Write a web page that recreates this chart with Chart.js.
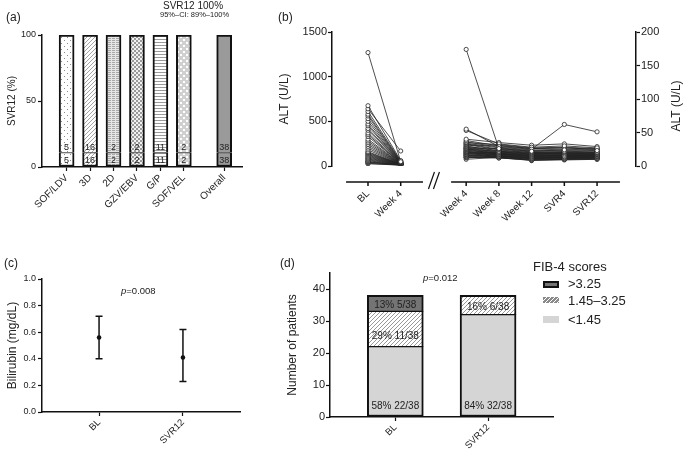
<!DOCTYPE html>
<html><head><meta charset="utf-8">
<script src="https://cdn.jsdelivr.net/npm/chart.js@4.4.0/dist/chart.umd.min.js"></script>
<style>
html,body{margin:0;padding:0;background:#fff;width:684px;height:455px;overflow:hidden;font-family:'Liberation Sans',Arial,Helvetica,sans-serif;}
canvas{position:absolute;}
.t{position:absolute;color:#222;white-space:nowrap;line-height:1;}
</style></head><body>
<canvas id="ca" width="260" height="230" style="left:0;top:0"></canvas>
<canvas id="cb" width="414" height="230" style="left:270px;top:0"></canvas>
<canvas id="cc" width="260" height="215" style="left:0;top:240px"></canvas>
<canvas id="cd" width="404" height="215" style="left:280px;top:240px"></canvas>
<div class="t" style="left:6px;top:11px;font-size:12px">(a)</div>
<div class="t" style="left:163px;top:1px;font-size:10px">SVR12 100%</div>
<div class="t" style="left:160px;top:11px;font-size:7.5px">95%–CI: 89%–100%</div>
<div class="t" style="left:278px;top:11px;font-size:12px">(b)</div>
<div class="t" style="left:4px;top:257px;font-size:12px">(c)</div>
<div class="t" style="left:280px;top:257px;font-size:12px">(d)</div>
<div class="t" style="left:121px;top:286px;font-size:9.5px"><i>p</i>=0.008</div>
<div class="t" style="left:423px;top:273px;font-size:9.5px"><i>p</i>=0.012</div>
<script>
// ---------- DATA ----------
// (a) SVR12 by regimen
const regimens = ['SOF/LDV','3D','2D','GZV/EBV','G/P','SOF/VEL','Overall'];
const svrRate = [100,100,100,100,100,100,100];
const svrCured = [5,16,2,2,11,2,38];
const svrTreated = [5,16,2,2,11,2,38];
const fractionSplit = 11;

// (b) ALT per patient (left block on left axis, right block on right axis)
const altLeftLabels = ['BL','Week 4'];
const altRightLabels = ['Week 4','Week 8','Week 12','SVR4','SVR12'];
const altBL   = [1270,675,640,610,580,560,530,500,470,450,420,400,370,350,330,300,280,260,240,220,200,180,160,150,140,130,120,110,100,90,80,70,60,50,45,40,30,25];
const altW4L  = [48,60,168,55,50,45,42,40,38,36,35,34,32,30,30,28,27,26,25,24,23,22,21,20,20,19,18,17,16,15,15,14,13,12,12,11,10,10];
const altW4   = [174,55,53,40,38,36,35,34,33,32,31,30,29,28,27,27,26,25,25,24,23,22,22,21,20,20,19,18,18,17,16,16,15,14,13,13,12,10];
const altW8   = [26,29,33,35,30,28,32,27,25,24,31,22,23,21,20,26,19,18,22,17,20,16,18,15,17,19,14,16,21,15,13,14,12,18,13,12,15,13];
const altW12  = [22,25,28,31,26,24,27,23,21,20,26,19,20,18,17,22,16,15,19,14,17,13,15,12,14,16,11,13,18,12,10,11,9,15,10,9,12,8];
const altSVR4 = [24,62,30,33,27,25,28,22,21,20,27,18,21,19,16,23,17,14,20,15,18,13,16,12,15,17,11,14,19,13,10,12,10,16,11,9,13,10];
const altSVR12= [23,51,27,29,25,24,26,21,20,19,25,18,20,18,17,22,16,15,19,15,17,14,16,13,15,16,12,14,18,13,11,12,10,15,12,10,13,11];

// (c) Bilirubin
const biliLabels = ['BL','SVR12'];
const biliMean = [0.56,0.41];
const biliLow  = [0.40,0.23];
const biliHigh = [0.72,0.62];

// (d) FIB-4 categories
const fibLabels = ['BL','SVR12'];
const fibLow  = [22,32];
const fibMid  = [11,6];
const fibHigh = [5,0];
const fibTotal = 38;
const fibLegend = ['>3.25','1.45–3.25','<1.45'];

// ---------- STYLE ----------
const FONT = "'Liberation Sans', Arial, Helvetica, sans-serif";
Chart.defaults.font.family = FONT;
Chart.defaults.color = '#222';
Chart.defaults.animation = false;
Chart.defaults.responsive = false;
Chart.defaults.plugins.legend.display = false;
Chart.defaults.plugins.tooltip.enabled = false;
const AX = '#111';

function makePattern(w,h,draw){
  const c=document.createElement('canvas'); c.width=w; c.height=h;
  const g=c.getContext('2d'); draw(g,w,h);
  return g.createPattern(c,'repeat');
}
function diagDraw(bg,fg,lw){
  return (g,w,h)=>{g.fillStyle=bg;g.fillRect(0,0,w,h);g.strokeStyle=fg;g.lineWidth=lw;g.beginPath();
    g.moveTo(0,h);g.lineTo(w,0);g.moveTo(-w/2,h/2);g.lineTo(w/2,-h/2);g.moveTo(w/2,h*1.5);g.lineTo(w*1.5,h/2);g.stroke();};
}
const patDots = makePattern(6,6,(g,w,h)=>{g.fillStyle='#fff';g.fillRect(0,0,w,h);g.fillStyle='#8a8a8a';g.fillRect(1,1,1,1);g.fillRect(4,4,1,1);});
const patDiag = makePattern(4,4,diagDraw('#fff','#999',0.9));
const pat2D = makePattern(4,2,(g,w,h)=>{g.fillStyle='#e6e6e6';g.fillRect(0,0,w,h);g.fillStyle='#a8a8a8';g.fillRect(0,0,3,1);});
const patCheck = makePattern(4,4,(g,w,h)=>{g.fillStyle='#f2f2f2';g.fillRect(0,0,w,h);g.fillStyle='#9a9a9a';g.fillRect(0,0,2,2);g.fillRect(2,2,2,2);});
const patHoriz = makePattern(3,3,(g,w,h)=>{g.fillStyle='#fff';g.fillRect(0,0,w,h);g.fillStyle='#9a9a9a';g.fillRect(0,0,w,1);});
const patDiamond = makePattern(6,6,(g,w,h)=>{g.fillStyle='#d0d0d0';g.fillRect(0,0,w,h);g.fillStyle='#fff';g.fillRect(0,0,2,2);g.fillRect(3,3,2,2);});
const aFills = [patDots,patDiag,pat2D,patCheck,patHoriz,patDiamond,'#9a9a9a'];
const patHatchD = makePattern(4,4,diagDraw('#fff','#8c8c8c',0.9));
const patHatchLeg = makePattern(4,4,diagDraw('#8a8a8a','#fff',1));

// ---------- (a) ----------
const aX = i => i + (i === regimens.length-1 ? 0.72 : 0);
const aLabelPlugin = {id:'aLabels', afterDatasetsDraw(chart){
  const ctx=chart.ctx, m0=chart.getDatasetMeta(0), m1=chart.getDatasetMeta(1);
  ctx.save(); ctx.font="9px "+FONT; ctx.fillStyle='#222'; ctx.textAlign='center'; ctx.textBaseline='middle';
  m0.data.forEach((el,i)=>ctx.fillText(String(svrTreated[i]), el.x, (el.y+el.base)/2+1));
  m1.data.forEach((el,i)=>ctx.fillText(String(svrCured[i]), el.x, el.base-5));
  ctx.restore();
}};
new Chart(document.getElementById('ca'),{
  type:'bar',
  data:{datasets:[
    {data:regimens.map((r,i)=>({x:aX(i),y:fractionSplit})), backgroundColor:aFills, borderColor:AX,
     borderWidth:{left:2,right:2,bottom:2,top:1}, borderSkipped:false, barThickness:15},
    {data:regimens.map((r,i)=>({x:aX(i),y:svrRate[i]-fractionSplit})), backgroundColor:aFills, borderColor:AX,
     borderWidth:{left:2,right:2,bottom:0,top:2}, borderSkipped:false, barThickness:15}
  ]},
  options:{
    layout:{padding:{top:35,right:18,left:0,bottom:0}},
    scales:{
      x:{type:'linear',stacked:true,min:-1.05,max:7.48,offset:false,
        afterBuildTicks:s=>{s.ticks=regimens.map((r,i)=>({value:aX(i)}));},
        afterFit:s=>{s.height=63;},
        ticks:{callback:(v)=>{const i=regimens.findIndex((r,k)=>Math.abs(aX(k)-v)<1e-6);return regimens[i];},
          minRotation:45,maxRotation:45,autoSkip:false,font:{size:10},padding:1,color:'#222'},
        grid:{offset:false,drawOnChartArea:false,drawTicks:true,tickLength:4,tickColor:AX,tickWidth:1.2},
        border:{color:AX,width:1.5}},
      y:{stacked:true,min:0,max:100,ticks:{stepSize:50,font:{size:9},padding:2,color:'#222'},
        afterFit:s=>{s.width=42;},
        grid:{drawOnChartArea:false,tickLength:4,tickColor:AX,tickWidth:1.2},
        border:{color:AX,width:1.5},
        title:{display:true,text:'SVR12 (%)',font:{size:10},padding:{top:6,bottom:0},color:'#222'}}
    }
  },
  plugins:[aLabelPlugin]
});

// ---------- (b) ----------
const bLeftX = [0,1];
const bRightX = [3,4,5,6,7];
const bAllX = bLeftX.concat(bRightX);
const bAllLabels = altLeftLabels.concat(altRightLabels);
const rightSeries = [altW4,altW8,altW12,altSVR4,altSVR12];
const bDatasets=[];
const lineStyle = {borderColor:'#222',borderWidth:0.8,pointRadius:2.1,pointBackgroundColor:'#fff',
  pointBorderColor:'#222',pointBorderWidth:0.8,tension:0,fill:false};
for(let i=0;i<altBL.length;i++){
  bDatasets.push(Object.assign({data:[{x:bLeftX[0],y:altBL[i]},{x:bLeftX[1],y:altW4L[i]}],yAxisID:'y'},lineStyle));
  bDatasets.push(Object.assign({data:bRightX.map((x,k)=>({x,y:rightSeries[k][i]})),yAxisID:'y2'},lineStyle));
}
const bDecor = {id:'bDecor', afterDraw(chart){
  const ctx=chart.ctx, xs=chart.scales.x, ca=chart.chartArea;
  const y0=ca.bottom+16;
  ctx.save(); ctx.strokeStyle=AX; ctx.lineWidth=1.5; ctx.beginPath();
  ctx.moveTo(xs.getPixelForValue(-0.67),y0); ctx.lineTo(xs.getPixelForValue(1.68),y0);
  ctx.moveTo(xs.getPixelForValue(2.54),y0); ctx.lineTo(xs.getPixelForValue(7.7),y0);
  bAllX.forEach(v=>{const p=xs.getPixelForValue(v); ctx.moveTo(p,y0); ctx.lineTo(p,y0+4);});
  ctx.stroke();
  ctx.lineWidth=1.2; ctx.beginPath();
  const bx=xs.getPixelForValue(2.0);
  ctx.moveTo(bx-5,y0+7); ctx.lineTo(bx+1,y0-10);
  ctx.moveTo(bx,y0+7); ctx.lineTo(bx+6,y0-10);
  ctx.stroke();
  ctx.fillStyle='#222'; ctx.font='12px '+FONT; ctx.textAlign='center'; ctx.textBaseline='middle';
  ctx.translate(chart.width-7,(ca.top+ca.bottom)/2+7); ctx.rotate(-Math.PI/2);
  ctx.fillText('ALT (U/L)',0,0);
  ctx.restore();
}};
new Chart(document.getElementById('cb'),{
  type:'line',
  data:{datasets:bDatasets},
  options:{
    layout:{padding:{top:32,right:0,left:0,bottom:0}},
    scales:{
      x:{type:'linear',min:-1.1,max:8.19,
        afterBuildTicks:s=>{s.ticks=bAllX.map(v=>({value:v}));},
        afterFit:s=>{s.height=64;},
        ticks:{callback:(v)=>bAllLabels[bAllX.indexOf(v)],minRotation:45,maxRotation:45,autoSkip:false,font:{size:10},padding:2,color:'#222'},
        grid:{drawOnChartArea:false,drawTicks:true,tickLength:20,tickColor:'rgba(0,0,0,0)'},
        border:{display:false}},
      y:{position:'left',min:0,max:1500,ticks:{stepSize:500,font:{size:11},padding:1,color:'#222',callback:v=>String(v)},
        afterFit:s=>{s.width=62;},
        grid:{drawOnChartArea:false,tickLength:4,tickColor:AX,tickWidth:1.2},
        border:{color:AX,width:1.5},
        title:{display:true,text:'ALT (U/L)',font:{size:12},padding:{top:7,bottom:0},color:'#222'}},
      y2:{position:'right',min:0,max:200,ticks:{stepSize:50,font:{size:11},padding:1,color:'#222',callback:v=>String(v)},
        afterFit:s=>{s.width=48;},
        grid:{drawOnChartArea:false,tickLength:4,tickColor:AX,tickWidth:1.2},
        border:{color:AX,width:1.5}}
    }
  },
  plugins:[bDecor]
});

// ---------- (c) ----------
const cErr = {id:'cErr', beforeDatasetsDraw(chart){
  const ctx=chart.ctx, xs=chart.scales.x, ys=chart.scales.y;
  ctx.save(); ctx.strokeStyle='#111'; ctx.lineWidth=1.5; ctx.beginPath();
  biliMean.forEach((m,i)=>{
    const x=xs.getPixelForValue(i), yl=ys.getPixelForValue(biliLow[i]), yh=ys.getPixelForValue(biliHigh[i]);
    ctx.moveTo(x,yl); ctx.lineTo(x,yh);
    ctx.moveTo(x-3.5,yl); ctx.lineTo(x+3.5,yl);
    ctx.moveTo(x-3.5,yh); ctx.lineTo(x+3.5,yh);
  });
  ctx.stroke(); ctx.restore();
}};
new Chart(document.getElementById('cc'),{
  type:'scatter',
  data:{datasets:[{data:biliMean.map((m,i)=>({x:i,y:m})),pointRadius:2.3,pointBackgroundColor:'#111',pointBorderColor:'#111',pointBorderWidth:0}]},
  options:{
    layout:{padding:{top:39,right:20,left:0,bottom:0}},
    scales:{
      x:{type:'linear',min:-0.68,max:1.68,
        afterBuildTicks:s=>{s.ticks=biliLabels.map((l,i)=>({value:i}));},
        afterFit:s=>{s.height=43;},
        ticks:{callback:(v)=>biliLabels[v],minRotation:45,maxRotation:45,autoSkip:false,font:{size:9.5},padding:1,color:'#222'},
        grid:{drawOnChartArea:false,tickLength:4,tickColor:AX,tickWidth:1.2},
        border:{color:AX,width:1.5}},
      y:{min:0,max:1,ticks:{stepSize:0.2,font:{size:9},padding:2,color:'#222',callback:v=>v.toFixed(1)},
        afterFit:s=>{s.width=42;},
        grid:{drawOnChartArea:false,tickLength:4,tickColor:AX,tickWidth:1.2},
        border:{color:AX,width:1.5},
        title:{display:true,text:'Bilirubin (mg/dL)',font:{size:12},padding:{top:5,bottom:0},color:'#222'}}
    }
  },
  plugins:[cErr]
});

// ---------- (d) ----------
const dPlugin = {id:'dDecor', afterDatasetsDraw(chart){
  const ctx=chart.ctx;
  ctx.save(); ctx.font='10px '+FONT; ctx.fillStyle='#222'; ctx.textAlign='center'; ctx.textBaseline='middle';
  const series=[fibLow,fibMid,fibHigh];
  series.forEach((arr,d)=>{
    const meta=chart.getDatasetMeta(d);
    meta.data.forEach((el,i)=>{
      const n=arr[i]; if(!n) return;
      const pct=Math.round(n/fibTotal*100);
      const y=Math.max((el.y+el.base)/2+2, el.base-10);
      ctx.fillText(pct+'% '+n+'/'+fibTotal, el.x, y);
    });
  });
  // legend
  ctx.textAlign='left';
  ctx.font='13px '+FONT;
  ctx.fillText('FIB-4 scores',253,27);
  const rows=[44,61,80];
  ctx.fillStyle='#111'; ctx.fillRect(263,41,16,7); ctx.fillStyle='#747474'; ctx.fillRect(265,43,12,3);
  ctx.fillStyle=patHatchLeg; ctx.fillRect(263,57,16,6);
  ctx.fillStyle='#d5d5d5'; ctx.fillRect(263,76,16,7);
  ctx.fillStyle='#222';
  fibLegend.forEach((t,k)=>ctx.fillText(t,288,rows[k]));
  ctx.restore();
}};
new Chart(document.getElementById('cd'),{
  type:'bar',
  data:{datasets:[
    {data:fibLabels.map((l,i)=>({x:i,y:fibLow[i]})),backgroundColor:'#d5d5d5',borderColor:AX,
     borderWidth:{left:2,right:2,bottom:2,top:1},borderSkipped:false,barThickness:56},
    {data:fibLabels.map((l,i)=>({x:i,y:fibMid[i]})),backgroundColor:patHatchD,borderColor:AX,
     borderWidth:(c)=>({left:2,right:2,bottom:1,top:fibHigh[c.dataIndex]>0?1:2}),borderSkipped:false,barThickness:56},
    {data:fibLabels.map((l,i)=>({x:i,y:fibHigh[i]>0?fibHigh[i]:null})),backgroundColor:'#747474',borderColor:AX,
     borderWidth:{left:2,right:2,bottom:1,top:2},borderSkipped:false,barThickness:56}
  ]},
  options:{
    layout:{padding:{top:33,right:131,left:0,bottom:0}},
    scales:{
      x:{type:'linear',stacked:true,min:-0.704,max:1.70,offset:false,
        afterBuildTicks:s=>{s.ticks=fibLabels.map((l,i)=>({value:i}));},
        afterFit:s=>{s.height=38;},
        ticks:{callback:(v)=>fibLabels[v],minRotation:45,maxRotation:45,autoSkip:false,font:{size:9.5},padding:1,color:'#222'},
        grid:{offset:false,drawOnChartArea:false,tickLength:4,tickColor:AX,tickWidth:1.2},
        border:{color:AX,width:1.5}},
      y:{stacked:true,min:0,max:45,
        afterBuildTicks:s=>{s.ticks=s.ticks.filter(t=>t.value%10===0);},
        ticks:{stepSize:10,font:{size:11},padding:1,color:'#222'},
        afterFit:s=>{s.width=50;},
        grid:{drawOnChartArea:false,tickLength:4,tickColor:AX,tickWidth:1.2},
        border:{color:AX,width:1.5},
        title:{display:true,text:'Number of patients',font:{size:12},padding:{top:5,bottom:0},color:'#222'}}
    }
  },
  plugins:[dPlugin]
});
</script>
</body></html>
